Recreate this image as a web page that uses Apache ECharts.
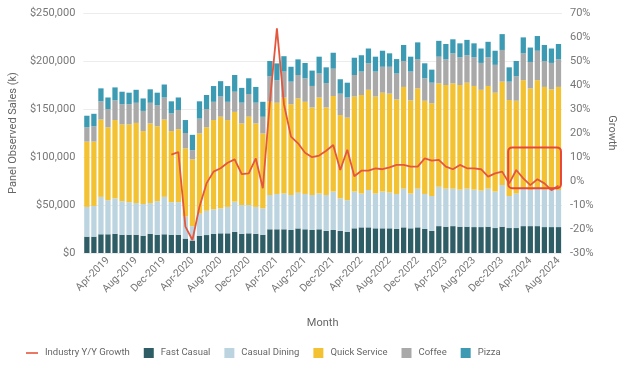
<!DOCTYPE html>
<html>
<head>
<meta charset="utf-8">
<script src="https://cdn.jsdelivr.net/npm/echarts@6/dist/echarts.min.js"></script>
<style>
  html, body { margin: 0; padding: 0; background: #fff; }
  #chart { width: 625px; height: 365px; }
</style>
</head>
<body>
<div id="chart"></div>
<script>
// monthly, Jan-2019 .. Aug-2024 (values in $k)
const monthNames = ['Jan','Feb','Mar','Apr','May','Jun','Jul','Aug','Sep','Oct','Nov','Dec'];
const months = [];
for (let y = 2019; y <= 2024; y++) {
  monthNames.forEach((m) => months.push(m + '-' + y));
}
months.length = 68;

const fastCasual = [
  17, 17, 19.5, 19.5, 20, 19, 19, 19, 18, 20, 19, 19.5,
  19, 19, 15, 13, 18, 18.7, 19.8, 20.5, 20.5, 22, 20, 20.5,
  20, 19, 24.7, 24.7, 24.7, 24, 25.6, 24.7, 24, 24.7, 23, 24,
  23, 22, 25.7, 26.7, 26.7, 25.7, 25.7, 25.7, 25, 26.7, 25.7, 26.7,
  25, 23, 28, 27.4, 28, 27.4, 27.4, 27, 27, 27.4, 26, 27.4,
  26, 26, 28, 28, 28, 27, 27, 27,
];
const casualDining = [
  31, 32, 39, 35.5, 37, 35, 34, 33, 33, 32, 35, 39,
  34, 34, 23, 15, 23, 25.3, 25.7, 26, 27.5, 31.5, 30, 29.5,
  28, 27.5, 35.7, 36.8, 37.3, 36.4, 37.2, 36.8, 36.4, 37.3, 37.4, 40,
  34, 33, 38.3, 35.3, 38.9, 36.3, 38.3, 37.3, 36.5, 40.3, 36.3, 40.3,
  36.5, 36.4, 41, 39.6, 39, 38.6, 39.6, 39, 38, 39.6, 38, 43.4,
  33.4, 36, 39, 37.6, 39, 39, 38.6, 38.6,
];
const quickService = [
  68, 67, 80.5, 76, 81.5, 80, 81, 83.5, 76, 83, 78, 80.5,
  74, 76, 71, 69.6, 83.6, 87, 93, 95.5, 90.5, 93.5, 85, 92,
  87, 78, 97.2, 95, 100, 94.6, 98.2, 96, 91.3, 100, 91.3, 99.5,
  86.7, 86, 99, 102.6, 104.4, 101, 103, 103, 98.5, 106, 97, 104.5,
  97.1, 96.6, 107.7, 108, 109.7, 109, 110.4, 108, 105, 107, 103, 107.7,
  100, 96.6, 113, 105.9, 113, 107, 104.9, 107.4,
];
const coffee = [
  15, 16, 19, 19, 20.5, 21, 21, 21, 21, 21.5, 22, 23,
  18.5, 20, 16, 9.5, 15.4, 19, 19, 21, 19, 21, 21.6, 23.6,
  21.6, 17.4, 26.4, 23.4, 27, 23.5, 24.4, 24.4, 22.3, 25, 25.3, 28.5,
  22.3, 21, 22.4, 24.4, 27.6, 26, 27, 28, 27, 27, 30, 30.2,
  23.4, 21.4, 27.8, 26.7, 31.3, 28.8, 28.6, 29.8, 28, 29.8, 29, 33,
  19.1, 25.4, 28, 27.5, 30.7, 27, 27.5, 28.7,
];
const pizza = [
  12, 13, 13.5, 12, 13.5, 13, 12, 13.5, 13, 14, 13, 13.5,
  12.5, 13, 13.5, 16, 18, 14.6, 16.4, 16, 16.4, 17.4, 15.4, 16.4,
  16.4, 15.6, 16, 17.6, 16, 15.5, 16.3, 16, 16, 17.5, 16.4, 16.6,
  15, 15.4, 18, 17, 15.4, 15.5, 16.7, 14, 15, 16.7, 15.5, 17.7,
  15.6, 13.6, 16.5, 16, 14.6, 14.6, 16, 14.6, 15, 16.2, 14.7, 16.5,
  14.9, 16, 16.6, 15, 15.3, 16.7, 15, 16,
];
// industry y/y growth, %
const growth = [
  null, null, null, null, null, null, null, null, null, null, null, null,
  11, 12, -19, -24.6, -10.7, -1, 3.9, 5.3, 7.6, 9, 2.9, 3.2,
  9.4, -3, 33, 63.6, 32, 18.5, 15.7, 11.8, 9.9, 10.6, 12.6, 15,
  4.6, 13, 2, 4.3, 4.3, 5.3, 4.9, 5.7, 6.7, 6.7, 6, 6,
  9.4, 8.5, 8.8, 6, 4.9, 6.7, 5.3, 5.3, 4.9, 1.8, 3.2, 3.9,
  -1, 4.6, 1.1, -1.7, 0.7, -1, -3.8, -2,
];
// highlighted range
const boxMonths = ['Jan-2024', 'Aug-2024'];
const boxGrowth = [14, -3];

const colors = {
  line: '#e4573d',
  fast: '#2e5d66',
  casual: '#bcd4df',
  quick: '#f3c232',
  coffee: '#a9a9a9',
  pizza: '#3c9ab3',
};

const sq = 'path://M0,0M2,0L12,0L12,10L2,10ZM14,10';
const ln = 'path://M0,0M0,4.2L12,4.2L12,5.8L0,5.8ZM14,10';

function bar(name, data, color) {
  return {
    name: name,
    type: 'bar',
    stack: 'sales',
    data: data,
    itemStyle: { color: color },
    barCategoryGap: '25%',
    emphasis: { disabled: true },
  };
}

const chart = echarts.init(document.getElementById('chart'));
chart.setOption({
  animation: false,
  textStyle: { fontFamily: 'Roboto, sans-serif' },
  grid: { left: 80, right: 48, top: 13, bottom: 112 },
  legend: {
    left: 21,
    top: 343,
    itemWidth: 14,
    itemHeight: 10,
    itemGap: 12,
    textStyle: { color: '#666', fontSize: 9.5 },
    data: [
      { name: 'Industry Y/Y Growth', icon: ln },
      { name: 'Fast Casual', icon: sq },
      { name: 'Casual Dining', icon: sq },
      { name: 'Quick Service', icon: sq },
      { name: 'Coffee', icon: sq },
      { name: 'Pizza', icon: sq },
    ],
  },
  xAxis: {
    type: 'category',
    data: months,
    name: 'Month',
    nameLocation: 'middle',
    nameGap: 65,
    nameTextStyle: { color: '#666', fontSize: 11 },
    axisLine: { show: false },
    axisTick: { show: false },
    axisLabel: {
      interval: (i) => i % 4 === 3,
      rotate: 45,
      color: '#777',
      fontSize: 10.5,
      margin: 6,
    },
  },
  yAxis: [
    {
      type: 'value',
      min: 0,
      max: 250,
      interval: 50,
      name: 'Panel Observed Sales (k)',
      nameLocation: 'middle',
      nameGap: 62,
      nameTextStyle: { color: '#666', fontSize: 11 },
      axisLabel: {
        color: '#777',
        fontSize: 11,
        formatter: (v) => '$' + (v * 1000).toLocaleString('en-US'),
      },
      splitLine: { lineStyle: { color: '#ececec' } },
    },
    {
      type: 'value',
      min: -30,
      max: 70,
      interval: 10,
      name: 'Growth',
      nameLocation: 'middle',
      nameGap: 44,
      nameRotate: -90,
      nameTextStyle: { color: '#666', fontSize: 11 },
      axisLabel: { color: '#777', fontSize: 11, formatter: '{value}%' },
      splitLine: { show: false },
    },
  ],
  series: [
    bar('Fast Casual', fastCasual, colors.fast),
    bar('Casual Dining', casualDining, colors.casual),
    bar('Quick Service', quickService, colors.quick),
    bar('Coffee', coffee, colors.coffee),
    bar('Pizza', pizza, colors.pizza),
    {
      name: 'Industry Y/Y Growth',
      type: 'line',
      yAxisIndex: 1,
      data: growth,
      showSymbol: false,
      color: colors.line,
      lineStyle: { width: 1.8, color: colors.line },
      z: 5,
    },
  ],
});

// annotation box around the last months
const x0 = chart.convertToPixel({ xAxisIndex: 0 }, boxMonths[0]) - 1;
const x1 = chart.convertToPixel({ xAxisIndex: 0 }, boxMonths[1]) + 2.5;
const y0 = chart.convertToPixel({ yAxisIndex: 1 }, boxGrowth[0]);
const y1 = chart.convertToPixel({ yAxisIndex: 1 }, boxGrowth[1]);
chart.setOption({
  graphic: [
    {
      type: 'rect',
      z: 10,
      shape: { x: x0, y: y0, width: x1 - x0, height: y1 - y0, r: 4 },
      style: { fill: 'none', stroke: '#e8463a', lineWidth: 2 },
    },
  ],
});
</script>
</body>
</html>
